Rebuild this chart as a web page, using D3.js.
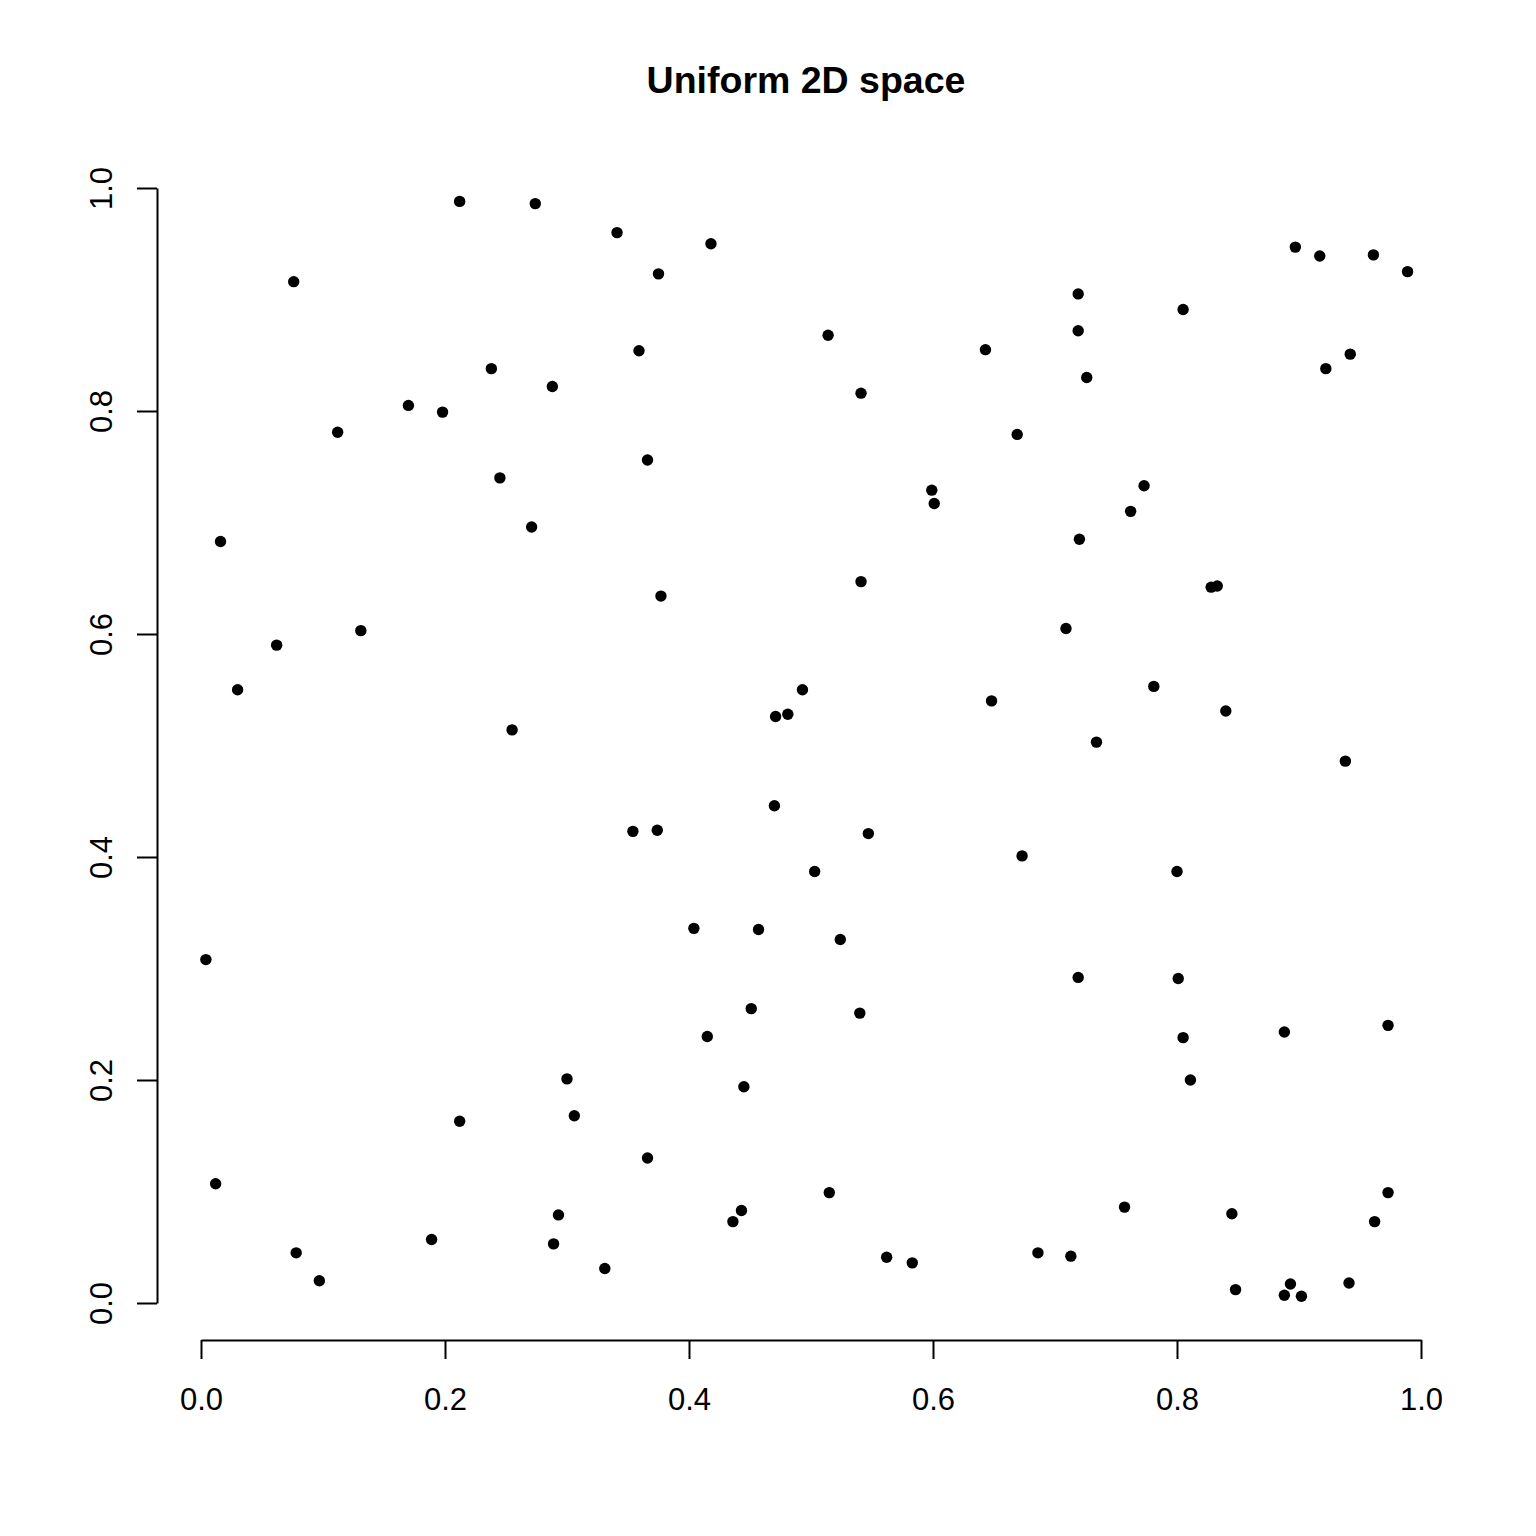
<!DOCTYPE html>
<html>
<head>
<meta charset="utf-8">
<script src="https://cdn.jsdelivr.net/npm/d3@7"></script>
<style>
  body { margin: 0; background: #fff; }
  svg { display: block; }
  text { font-family: "Liberation Sans", Arial, Helvetica, sans-serif; fill: #000; }
</style>
</head>
<body>
<div id="chart"></div>
<script>
const title = 'Uniform 2D space'
const tickValues = [0, 0.2, 0.4, 0.6, 0.8, 1.0]

// point coordinates
const xs = [
  0.212, 0.274, 0.076, 0.238, 0.288, 0.170, 0.198, 0.112, 0.245, 0.271,
  0.016, 0.341, 0.418, 0.375, 0.514, 0.643, 0.359, 0.541, 0.669, 0.366,
  0.599, 0.601, 0.897, 0.917, 0.961, 0.989, 0.719, 0.805, 0.719, 0.726,
  0.942, 0.922, 0.773, 0.762, 0.720, 0.131, 0.062, 0.030, 0.255, 0.377,
  0.541, 0.493, 0.471, 0.481, 0.648, 0.470, 0.354, 0.374, 0.547, 0.673,
  0.503, 0.828, 0.833, 0.709, 0.781, 0.840, 0.734, 0.938, 0.800, 0.004,
  0.300, 0.306, 0.212, 0.012, 0.293, 0.189, 0.289, 0.078, 0.097, 0.331,
  0.404, 0.457, 0.524, 0.451, 0.540, 0.415, 0.445, 0.366, 0.515, 0.443,
  0.436, 0.562, 0.583, 0.719, 0.801, 0.805, 0.811, 0.888, 0.973, 0.757,
  0.845, 0.973, 0.962, 0.686, 0.713, 0.848, 0.893, 0.888, 0.902, 0.941
]
const ys = [
  0.988, 0.986, 0.916, 0.838, 0.822, 0.805, 0.799, 0.781, 0.740, 0.696,
  0.683, 0.960, 0.950, 0.923, 0.868, 0.855, 0.854, 0.816, 0.779, 0.756,
  0.729, 0.717, 0.947, 0.939, 0.940, 0.925, 0.905, 0.891, 0.872, 0.830,
  0.851, 0.838, 0.733, 0.710, 0.685, 0.603, 0.590, 0.550, 0.514, 0.634,
  0.647, 0.550, 0.526, 0.528, 0.540, 0.446, 0.423, 0.424, 0.421, 0.401,
  0.387, 0.642, 0.643, 0.605, 0.553, 0.531, 0.503, 0.486, 0.387, 0.308,
  0.201, 0.168, 0.163, 0.107, 0.079, 0.057, 0.053, 0.045, 0.020, 0.031,
  0.336, 0.335, 0.326, 0.264, 0.260, 0.239, 0.194, 0.130, 0.099, 0.083,
  0.073, 0.041, 0.036, 0.292, 0.291, 0.238, 0.200, 0.243, 0.249, 0.086,
  0.080, 0.099, 0.073, 0.045, 0.042, 0.012, 0.017, 0.007, 0.006, 0.018
]

const width = 1536
const height = 1536

const x = d3.scaleLinear().domain([0, 1]).range([201, 1421])
const y = d3.scaleLinear().domain([0, 1]).range([1303, 188])

const fmt = d3.format('.1f')

const svg = d3.select('#chart')
  .append('svg')
  .attr('width', width)
  .attr('height', height)

svg.append('text')
  .attr('x', 806)
  .attr('y', 93)
  .attr('text-anchor', 'middle')
  .style('font-size', '37.5px')
  .style('font-weight', 'bold')
  .text(title)

const xAxis = svg.append('g')
  .attr('transform', 'translate(0,1340)')
  .call(d3.axisBottom(x).tickValues(tickValues).tickFormat(fmt)
    .tickSize(19).tickSizeOuter(0).tickPadding(29))

const yAxis = svg.append('g')
  .attr('transform', 'translate(157,0)')
  .call(d3.axisLeft(y).tickValues(tickValues).tickFormat(fmt)
    .tickSize(20).tickSizeOuter(0))

yAxis.selectAll('.tick text')
  .attr('transform', 'rotate(-90)')
  .attr('x', 0)
  .attr('y', -45)
  .attr('dy', null)
  .attr('text-anchor', 'middle')

svg.selectAll('.domain, .tick line')
  .attr('stroke', '#000')
  .attr('stroke-width', 2)

svg.selectAll('.tick text')
  .attr('fill', '#000')
  .style('font-size', '31px')
  .style('font-family', '"Liberation Sans", Arial, Helvetica, sans-serif')

svg.append('g')
  .selectAll('circle')
  .data(d3.zip(xs, ys))
  .join('circle')
  .attr('cx', d => x(d[0]))
  .attr('cy', d => y(d[1]))
  .attr('r', 5.7)
  .attr('fill', '#000')
</script>
</body>
</html>
